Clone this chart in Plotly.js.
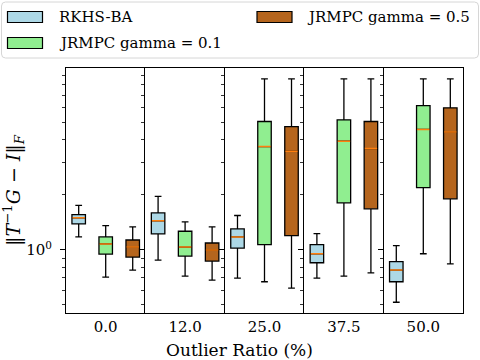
<!DOCTYPE html>
<html><head><meta charset="utf-8">
<script src="https://cdn.plot.ly/plotly-3.0.1.min.js"></script>
<style>html,body{margin:0;padding:0;background:#fff}#chart{width:480px;height:360px}</style>
</head><body><div id="chart"></div>
<script>
// Outlier ratios (one subplot each)
const ratios = ["0.0", "12.0", "25.0", "37.5", "50.0"];
const seriesNames = ["RKHS-BA", "JRMPC gamma = 0.1", "JRMPC gamma = 0.5"];
const seriesColors = ["#add8e6", "#90ee90", "#b5651d"];

// RKHS-BA box statistics per ratio
const rkhsLow  = [1.174, 0.877, 0.698, 0.698, 0.515];
const rkhsQ1   = [1.384, 1.220, 1.021, 0.848, 0.667];
const rkhsMed  = [1.494, 1.439, 1.174, 0.950, 0.773];
const rkhsQ3   = [1.558, 1.591, 1.299, 1.065, 0.859];
const rkhsHigh = [1.747, 1.957, 1.539, 1.225, 1.052];

// JRMPC gamma = 0.1
const g1Low  = [0.708, 0.716, 0.667, 0.716, 0.950];
const g1Q1   = [0.946, 0.923, 1.065, 1.807, 2.190];
const g1Med  = [1.075, 1.034, 3.674, 3.930, 4.560];
const g1Q3   = [1.174, 1.262, 5.040, 5.150, 6.150];
const g1High = [1.356, 1.420, 8.620, 8.620, 8.620];

// JRMPC gamma = 0.5
const g5Low  = [0.773, 0.681, 0.615, 0.747, 0.837];
const g5Q1   = [0.911, 0.866, 1.194, 1.675, 1.900];
const g5Med  = [1.034, 0.996, 3.462, 3.580, 4.410];
const g5Q3   = [1.130, 1.088, 4.730, 5.040, 5.990];
const g5High = [1.332, 1.332, 8.620, 8.620, 8.620];

const stats = [
  {low: rkhsLow, q1: rkhsQ1, med: rkhsMed, q3: rkhsQ3, high: rkhsHigh},
  {low: g1Low, q1: g1Q1, med: g1Med, q3: g1Q3, high: g1High},
  {low: g5Low, q1: g5Q1, med: g5Med, q3: g5Q3, high: g5High}
];
const positions = [1, 2, 3];
const boxWidth = 0.5;

const FONT = "DejaVu Serif";
const traces = [];
const layout = {
  width: 480, height: 360,
  margin: {l: 66, r: 17, t: 68, b: 47, pad: 0},
  paper_bgcolor: "#fff", plot_bgcolor: "#fff",
  showlegend: false,
  font: {family: FONT, size: 15, color: "#000"},
  shapes: [], annotations: []
};

const n = ratios.length;
const minorVals = [0.5, 0.6, 0.7, 0.8, 0.9, 2, 3, 4, 5, 6, 7, 8, 9];
for (let i = 0; i < n; i++) {
  const xs = i === 0 ? "x" : "x" + (i + 1);
  const ys = i === 0 ? "y" : "y" + (i + 1);
  const xk = i === 0 ? "xaxis" : "xaxis" + (i + 1);
  const yk = i === 0 ? "yaxis" : "yaxis" + (i + 1);
  for (let s = 0; s < 3; s++) {
    const st = stats[s];
    traces.push({
      type: "box", xaxis: xs, yaxis: ys, name: seriesNames[s],
      x: [positions[s]], q1: [st.q1[i]], median: [st.med[i]], q3: [st.q3[i]],
      lowerfence: [st.low[i]], upperfence: [st.high[i]],
      width: boxWidth, whiskerwidth: 0.5, boxpoints: false,
      fillcolor: seriesColors[s], line: {color: "#000", width: 1.3},
      hoverinfo: "skip"
    });
    traces.push({
      type: "scatter", mode: "lines", xaxis: xs, yaxis: ys,
      x: [positions[s] - boxWidth / 2 + 0.02, positions[s] + boxWidth / 2 - 0.02],
      y: [st.med[i], st.med[i]],
      line: {color: "#ff7f0e", width: 1.5}, hoverinfo: "skip"
    });
  }
  layout[xk] = {
    domain: [i / n, (i + 1) / n], anchor: ys,
    range: [0.53, 3.47], tickmode: "array", tickvals: [2], ticktext: [ratios[i]],
    ticks: "", showgrid: false, zeroline: false,
    showline: true, mirror: true, linecolor: "#000", linewidth: 1,
    tickfont: {family: FONT, size: 15, color: "#000"}, fixedrange: true
  };
  layout[yk] = {
    type: "log", anchor: xs, range: [-0.347, 0.9956],
    tickmode: "array", tickvals: [1], ticktext: ["10<sup>0</sup>"],
    ticks: "outside", ticklen: 5, tickwidth: 1, tickcolor: "#000",
    ticklabelstandoff: 5,
    minor: {ticks: "outside", ticklen: 3, tickwidth: 0.8, tickcolor: "#000", tickmode: "array", tickvals: minorVals, showgrid: false},
    showticklabels: i === 0, showgrid: false, zeroline: false,
    showline: true, mirror: i === n - 1, linecolor: "#000", linewidth: 1,
    tickfont: {family: FONT, size: 15, color: "#000"}, fixedrange: true
  };
  if (i > 0) layout[yk].matches = "y";
}
layout.yaxis.title = {
  text: "‖<i>T</i><sup>−1</sup><i>G</i> − <i>I</i>‖<sub><i>F</i></sub>",
  font: {family: FONT, size: 19, color: "#000"}, standoff: 5
};

// supxlabel
const PL = 66, PR = 463, PT = 68, PB = 313;
const px = v => (v - PL) / (PR - PL);
const py = v => (PB - v) / (PB - PT);
layout.annotations.push({
  text: "Outlier Ratio (%)", xref: "paper", yref: "paper",
  x: px(239), y: py(350), xanchor: "center", yanchor: "middle",
  showarrow: false, font: {family: FONT, size: 17, color: "#000"}
});

// Legend frame with rounded corners (matplotlib-style, 2 columns)
(function () {
  const x0 = px(1.5), x1 = px(478.5), y0 = py(2), y1 = py(58);
  const rx = 4 / (PR - PL), ry = 4 / (PB - PT);
  const d = `M${x0 + rx},${y0} L${x1 - rx},${y0} Q${x1},${y0} ${x1},${y0 - ry} ` +
            `L${x1},${y1 + ry} Q${x1},${y1} ${x1 - rx},${y1} L${x0 + rx},${y1} ` +
            `Q${x0},${y1} ${x0},${y1 + ry} L${x0},${y0 - ry} Q${x0},${y0} ${x0 + rx},${y0} Z`;
  layout.shapes.push({
    type: "path", xref: "paper", yref: "paper", path: d,
    line: {color: "#d6d6d6", width: 1}, fillcolor: "rgba(255,255,255,0.8)", layer: "above"
  });
})();
const legendSlots = [
  {col: 7.5, text: 57, row: 17},   // RKHS-BA
  {col: 7.5, text: 57, row: 43},   // gamma 0.1
  {col: 257, text: 305, row: 17}   // gamma 0.5
];
for (let s = 0; s < 3; s++) {
  const L = legendSlots[s];
  layout.shapes.push({
    type: "rect", xref: "paper", yref: "paper",
    x0: px(L.col), x1: px(L.col + 35), y0: py(L.row - 5.5), y1: py(L.row + 5.5),
    line: {color: "#000", width: 1.2}, fillcolor: seriesColors[s], layer: "above"
  });
  layout.annotations.push({
    text: seriesNames[s], xref: "paper", yref: "paper",
    x: px(L.text), y: py(L.row), xanchor: "left", yanchor: "middle",
    showarrow: false, font: {family: FONT, size: 15, color: "#000"}
  });
}

Plotly.newPlot("chart", traces, layout, {staticPlot: true, displayModeBar: false});
</script>
</body></html>
